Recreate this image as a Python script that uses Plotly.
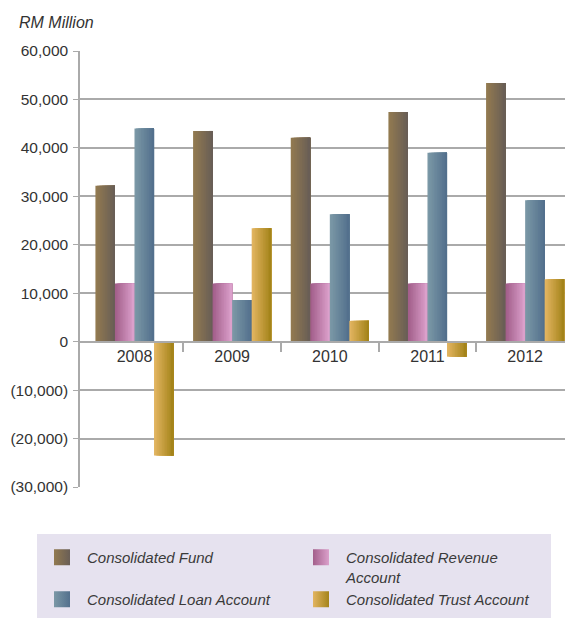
import plotly.graph_objects as go

years = ["2008", "2009", "2010", "2011", "2012"]
fund = [32200, 43500, 42100, 47400, 53400]
revenue = [12000, 12000, 12000, 12000, 12000]
loan = [44000, 8600, 26300, 39000, 29200]
trust = [-23500, 23400, 4300, -3100, 12900]

series = [
    ("Consolidated Fund", fund, "#927a50", "#695e56"),
    ("Consolidated Revenue<br>Account", revenue, "#a35f8b", "#dba0cb"),
    ("Consolidated Loan Account", loan, "#7b98a6", "#53708d"),
    ("Consolidated Trust Account", trust, "#e2b460", "#a4841a"),
]

ytick_vals = [-30000, -20000, -10000, 0, 10000, 20000, 30000, 40000, 50000, 60000]
ytick_text = ["(30,000)", "(20,000)", "(10,000)", "0", "10,000", "20,000",
              "30,000", "40,000", "50,000", "60,000"]

FONT = "Liberation Sans, Arial, sans-serif"
xpos = list(range(len(years)))

# page body has an 8px default margin; figure is sized to fill the rest
W, H = 565, 611
ML, MR, MT, MB = 72, 0, 43, 132
PW, PH = W - ML - MR, H - MT - MB


def px_x(x):  # window pixel -> paper fraction
    return (x - 8 - ML) / PW


def px_y(y):
    return 1 - (y - 8 - MT) / PH


def hex2rgb(h):
    h = h.lstrip("#")
    return tuple(int(h[i:i + 2], 16) for i in (0, 2, 4))


def mix(c1, c2, t):
    a, b = hex2rgb(c1), hex2rgb(c2)
    return "rgb(%d,%d,%d)" % tuple(round(a[i] + (b[i] - a[i]) * t) for i in range(3))


fig = go.Figure()
bar_w = 0.2
group_start = -0.4
N = 12
step = bar_w / N
for s, (name, vals, cl, cr) in enumerate(series):
    base_off = group_start + s * bar_w
    for k in range(N):
        t = k / (N - 1)
        fig.add_trace(go.Bar(
            x=xpos, y=vals,
            width=bar_w - k * step,
            offset=base_off + k * step,
            marker=dict(color=mix(cl, cr, t), line=dict(width=0)),
            name=name, showlegend=False,
            hoverinfo="skip",
        ))

for name, vals, cl, cr in series:
    fig.add_trace(go.Scatter(
        x=[None], y=[None], mode="markers", name=name,
        marker=dict(symbol="square", size=16, color=cl,
                    gradient=dict(type="horizontal", color=cr),
                    line=dict(width=0)),
    ))

fig.update_layout(
    width=W, height=H,
    barmode="overlay",
    plot_bgcolor="white", paper_bgcolor="white",
    margin=dict(l=ML, r=MR, t=MT, b=MB, autoexpand=False),
    font=dict(family=FONT, size=16, color="#333333"),
    legend=dict(
        orientation="h",
        x=px_x(37), xanchor="left",
        y=px_y(541), yanchor="top",
        bgcolor="rgba(0,0,0,0)",
        entrywidth=204,
        valign="top",
        font=dict(family=FONT, size=15, color="#3a3a3a", style="italic"),
        itemwidth=40,
    ),
    shapes=[dict(
        type="rect", xref="paper", yref="paper", layer="below",
        x0=px_x(37), x1=px_x(551), y0=px_y(618), y1=px_y(534),
        fillcolor="#e6e2ef", line=dict(width=0),
    )],
    annotations=[dict(
        text="<i>RM Million</i>", xref="paper", yref="paper",
        x=px_x(17), y=px_y(22),
        xanchor="left", yanchor="middle", showarrow=False,
        font=dict(family=FONT, size=16, color="#333333"),
    )],
)

fig.update_xaxes(
    range=[-0.558, 4.49],
    tickvals=xpos, ticktext=years,
    ticks="", showgrid=False, zeroline=False,
    anchor="free", position=1 / 3,
    showline=True, linecolor="#aaaaaa", linewidth=1.5,
    minor=dict(tickvals=[0.5, 1.5, 2.5, 3.5], ticks="outside", ticklen=10,
               tickcolor="#aaaaaa", tickwidth=1.5, showgrid=False),
    tickfont=dict(family=FONT, size=16, color="#333333"),
)
fig.update_yaxes(
    range=[-30000, 60000],
    tickvals=ytick_vals, ticktext=ytick_text,
    showgrid=True, gridcolor="#aaaaaa", gridwidth=1.5,
    zeroline=False,
    showline=True, linecolor="#aaaaaa", linewidth=1.5,
    ticks="outside", ticklen=5, tickcolor="#aaaaaa",
    ticklabelstandoff=2,
    tickfont=dict(family=FONT, size=15.5, color="#333333"),
)

fig.write_html("out.html")
